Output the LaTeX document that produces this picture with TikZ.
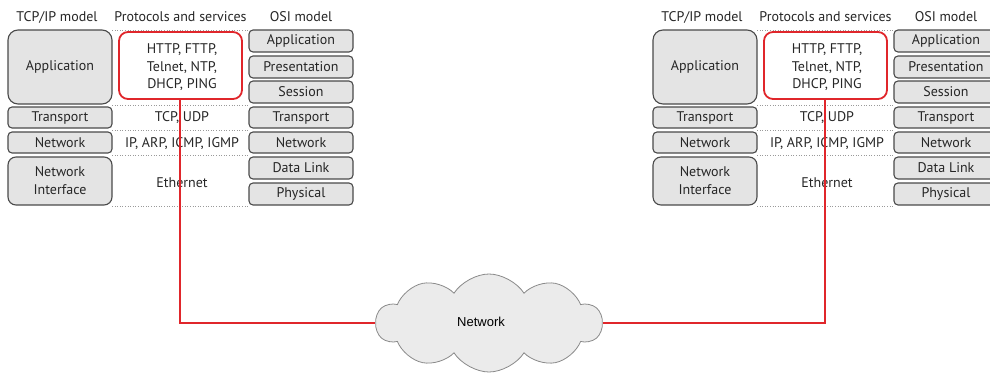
\documentclass[tikz,border=0pt]{standalone}
\usepackage{fontspec}
\setmainfont{PT Sans}
\newfontfamily\cloudfont{Liberation Sans}
\usetikzlibrary{shapes.symbols}

\definecolor{boxfill}{HTML}{E4E4E4}
\definecolor{boxline}{HTML}{4A4A4A}
\definecolor{inktext}{HTML}{262626}
\definecolor{linkred}{HTML}{E0262B}
\definecolor{cloudfill}{HTML}{EBEBEB}
\definecolor{cloudline}{HTML}{8A8A8A}
\definecolor{sepgray}{HTML}{9A9A9A}

\tikzset{
  label font/.style={font=\fontsize{14}{17}\selectfont, text=inktext},
  hdr/.style={label font, inner sep=0pt},
  layerbox/.style={label font, draw=boxline, fill=boxfill, line width=1.1pt,
    rounded corners=4pt, inner sep=0pt, minimum width=104pt, align=center},
  bigbox/.style={layerbox, rounded corners=10pt},
  protobox/.style={draw=linkred, line width=1.8pt, rounded corners=9pt,
    inner sep=0pt, minimum width=123pt, minimum height=67pt},
  prototext/.style={label font, inner sep=0pt, align=center},
  sepline/.style={draw=sepgray, line width=0.6pt, dotted},
  link/.style={draw=linkred, line width=2.5pt},
  netcloud/.style={cloud, cloud puffs=10, cloud puff arc=115, aspect=2.0,
    minimum width=226pt, minimum height=98pt, inner sep=0pt,
    fill=cloudfill, draw=cloudline, line width=0.8pt},
}

% One TCP/IP - protocols - OSI stack; #1 = name prefix, #2 = horizontal shift
\newcommand\protostack[2]{%
  \begin{scope}[xshift=#2]
    % column headings
    \node[hdr] (#1hA) at (57,17) {TCP/IP model};
    \node[hdr] (#1hB) at (180.5,17) {Protocols and services};
    \node[hdr] (#1hC) at (301,17) {OSI model};
    % dotted row separators of the middle column
    \foreach \yy in {30,105.5,130,155,206.5}
      \draw[sepline] (112,\yy) -- (249,\yy);
    % TCP/IP layers
    \node[bigbox, minimum height=74pt] (#1tApp) at (60,67) {Application};
    \node[layerbox, minimum height=21pt] (#1tTr) at (60,117.5) {Transport};
    \node[layerbox, minimum height=21pt] (#1tNet) at (60,142.5) {Network};
    \node[bigbox, rounded corners=8pt, minimum height=48pt,
      font=\fontsize{14}{18}\selectfont] (#1tIf) at (60,181) {Network\\Interface};
    % OSI layers
    \node[layerbox, minimum height=22pt] (#1oApp) at (301,41) {Application};
    \node[layerbox, minimum height=22pt] (#1oPre) at (301,67) {Presentation};
    \node[layerbox, minimum height=22pt] (#1oSes) at (301,92) {Session};
    \node[layerbox, minimum height=21pt] (#1oTr) at (301,117.5) {Transport};
    \node[layerbox, minimum height=21pt] (#1oNet) at (301,142.5) {Network};
    \node[layerbox, minimum height=22pt] (#1oDl) at (301,168) {Data Link};
    \node[layerbox, minimum height=22pt] (#1oPh) at (301,194) {Physical};
    % protocols
    \node[protobox] (#1proto) at (180.5,65.5) {};
    \node[prototext, font=\fontsize{14}{17.5}\selectfont] (#1pApp) at (182,67.5)
      {HTTP, FTTP,\\Telnet, NTP,\\DHCP, PING};
    \node[prototext] (#1pTr) at (182,118) {TCP, UDP};
    \node[prototext] (#1pNet) at (182,144) {IP, ARP, ICMP, IGMP};
    \node[prototext] (#1pIf) at (182,183) {Ethernet};
  \end{scope}}

\begin{document}
\begin{tikzpicture}[x=1pt, y=-1pt]
  \useasboundingbox (0,0) rectangle (990,372);
  \clip (0,0) rectangle (990,372);

  \protostack{L}{0pt}
  \protostack{R}{645pt}

  % the network cloud between both hosts
  \node[netcloud] (net) at (489,323) {};
  \node[font=\cloudfont\fontsize{13}{15}\selectfont, inner sep=0pt] (netlbl) at (481,322) {Network};

  % physical link from each host down to the cloud
  \draw[link] (Lproto.south -| 180,0) |- (net.west);
  \draw[link] (Rproto.south -| 825,0) |- (net.east);
\end{tikzpicture}
\end{document}
